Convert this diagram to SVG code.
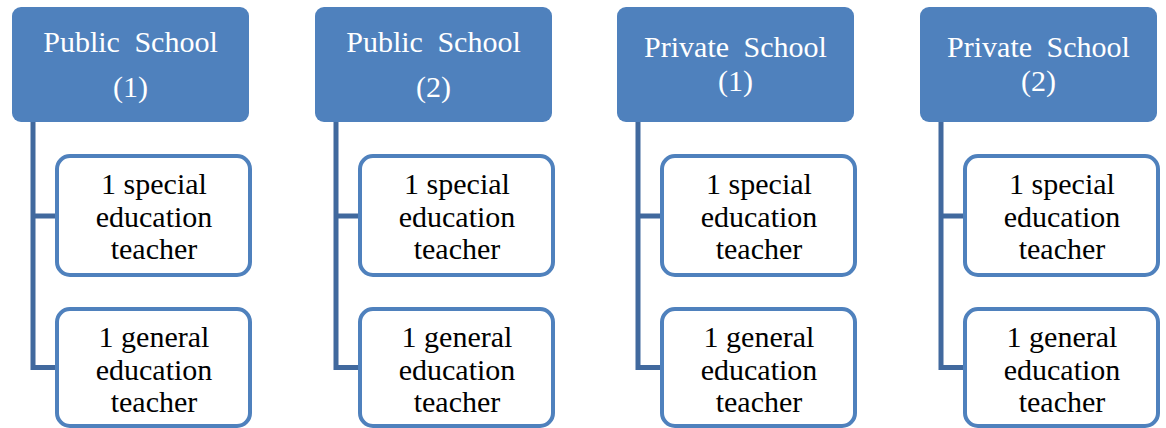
<svg xmlns="http://www.w3.org/2000/svg" width="1166" height="428" viewBox="0 0 1166 428">
  <style>
    .head rect { fill: #4F81BD; }
    .head text { fill: #FFFFFF; font-family: "Liberation Serif", "Times New Roman", serif; font-size: 30px; text-anchor: middle; word-spacing: 7px; }
    .child rect { fill: #FFFFFF; stroke: #4F81BD; stroke-width: 4; }
    .child text { fill: #000000; font-family: "Liberation Serif", "Times New Roman", serif; font-size: 30px; text-anchor: middle; }
    .conn path { fill: none; stroke: #41699E; stroke-width: 5; stroke-linejoin: miter; }
  </style>

  <!-- connectors: spine from each school down to its teachers -->
  <g id="connectors" class="conn">
    <path d="M33 122 V367.5 H57 M33 216 H57"/>
    <path d="M336 122 V367.5 H360 M336 216 H360"/>
    <path d="M638 122 V367.5 H662 M638 216 H662"/>
    <path d="M941 122 V367.5 H965 M941 216 H965"/>
  </g>

  <!-- column 1 -->
  <g id="public-school-1" class="head">
    <rect x="12" y="7" width="237" height="115" rx="9"/>
    <text x="130.5" y="52">Public School</text>
    <text x="130.5" y="97">(1)</text>
  </g>
  <g id="public-1-special" class="child">
    <rect x="57" y="156" width="193" height="119" rx="13"/>
    <text x="154" y="194">1 special</text>
    <text x="154" y="227">education</text>
    <text x="154" y="259">teacher</text>
  </g>
  <g id="public-1-general" class="child">
    <rect x="57" y="309" width="193" height="117" rx="13"/>
    <text x="154" y="347">1 general</text>
    <text x="154" y="380">education</text>
    <text x="154" y="412">teacher</text>
  </g>

  <!-- column 2 -->
  <g id="public-school-2" class="head">
    <rect x="315" y="7" width="237" height="115" rx="9"/>
    <text x="433.5" y="52">Public School</text>
    <text x="433.5" y="97">(2)</text>
  </g>
  <g id="public-2-special" class="child">
    <rect x="360" y="156" width="193" height="119" rx="13"/>
    <text x="457" y="194">1 special</text>
    <text x="457" y="227">education</text>
    <text x="457" y="259">teacher</text>
  </g>
  <g id="public-2-general" class="child">
    <rect x="360" y="309" width="193" height="117" rx="13"/>
    <text x="457" y="347">1 general</text>
    <text x="457" y="380">education</text>
    <text x="457" y="412">teacher</text>
  </g>

  <!-- column 3 -->
  <g id="private-school-1" class="head">
    <rect x="617" y="7" width="237" height="115" rx="9"/>
    <text x="735.5" y="57">Private School</text>
    <text x="735.5" y="91">(1)</text>
  </g>
  <g id="private-1-special" class="child">
    <rect x="662" y="156" width="193" height="119" rx="13"/>
    <text x="759" y="194">1 special</text>
    <text x="759" y="227">education</text>
    <text x="759" y="259">teacher</text>
  </g>
  <g id="private-1-general" class="child">
    <rect x="662" y="309" width="193" height="117" rx="13"/>
    <text x="759" y="347">1 general</text>
    <text x="759" y="380">education</text>
    <text x="759" y="412">teacher</text>
  </g>

  <!-- column 4 -->
  <g id="private-school-2" class="head">
    <rect x="920" y="7" width="237" height="115" rx="9"/>
    <text x="1038.5" y="57">Private School</text>
    <text x="1038.5" y="91">(2)</text>
  </g>
  <g id="private-2-special" class="child">
    <rect x="965" y="156" width="193" height="119" rx="13"/>
    <text x="1062" y="194">1 special</text>
    <text x="1062" y="227">education</text>
    <text x="1062" y="259">teacher</text>
  </g>
  <g id="private-2-general" class="child">
    <rect x="965" y="309" width="193" height="117" rx="13"/>
    <text x="1062" y="347">1 general</text>
    <text x="1062" y="380">education</text>
    <text x="1062" y="412">teacher</text>
  </g>
</svg>
